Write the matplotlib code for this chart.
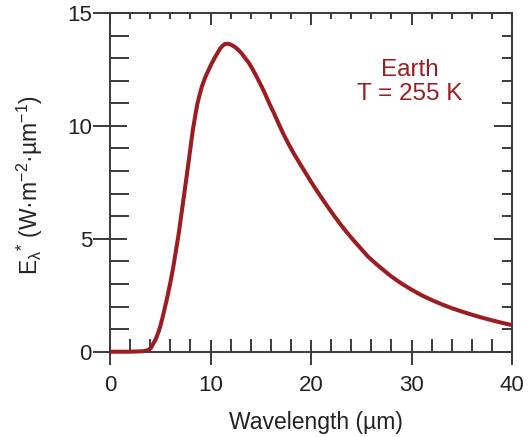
import matplotlib
matplotlib.use("Agg")
import matplotlib.pyplot as plt
from matplotlib.ticker import MultipleLocator

plt.rcParams['font.family'] = ['Liberation Sans', 'DejaVu Sans']
plt.rcParams['mathtext.fontset'] = 'custom'
plt.rcParams['mathtext.rm'] = 'Liberation Sans'
plt.rcParams['mathtext.it'] = 'Liberation Sans:italic'
plt.rcParams['mathtext.sf'] = 'Liberation Sans'

# Data
wavelength = [0, 2, 3.3, 3.8, 4.1, 4.32, 4.55, 4.8, 5.0, 5.25, 5.64, 6.0, 6.3, 6.84,
              7.3, 7.8, 8.24, 8.5, 8.7, 9.13, 9.45, 9.79, 10.1, 10.46, 10.95,
              11.2, 11.45, 11.7, 11.9, 12.2, 12.5, 12.8, 13.12, 13.45, 13.8,
              14.2, 14.6, 15.0, 15.3, 15.9, 16.3, 16.8, 17.3, 17.8, 18.3, 18.8,
              19.35, 19.9, 20.4, 21.0, 21.6, 22.2, 22.8, 23.5, 24.2, 25.0, 25.7,
              26.5, 27.2, 28.0, 29.0, 30.0, 31.0, 32.0, 33.0, 34.0, 35.0, 36.0,
              37.0, 38.0, 39.0, 40.0]
emission = [0, 0, 0.02, 0.07, 0.18, 0.37, 0.55, 0.85, 1.12, 1.55, 2.29, 3.05, 3.76, 5.24,
            6.71, 8.34, 9.81, 10.5, 10.99, 11.73, 12.12, 12.46, 12.75, 13.05, 13.42,
            13.55, 13.63, 13.64, 13.62, 13.56, 13.47, 13.35, 13.2, 13.0, 12.8,
            12.5, 12.17, 11.82, 11.55, 10.95, 10.58, 10.08, 9.6, 9.17, 8.77, 8.4,
            8.0, 7.6, 7.25, 6.85, 6.46, 6.08, 5.72, 5.32, 4.95, 4.55, 4.2,
            3.88, 3.62, 3.33, 3.02, 2.75, 2.5, 2.29, 2.1, 1.93, 1.78, 1.64,
            1.51, 1.39, 1.28, 1.18]
x_ticks = [0, 10, 20, 30, 40]
y_ticks = [0, 5, 10, 15]
annotation = "Earth\nT = 255 K"

W, H = 530, 437
fig = plt.figure(figsize=(W / 100, H / 100), dpi=100)
ax = fig.add_axes([110 / W, 1 - 351.7 / H, (512 - 110) / W, (351.7 - 13) / H])

red = '#9c1c22'
gray = '#3a3a3a'
ax.plot(wavelength, emission, color=red, lw=2.9, solid_capstyle='butt',
        solid_joinstyle='round', clip_on=False, zorder=3)

ax.set_xlim(0, 40)
ax.set_ylim(0, 15)
ax.set_xticks(x_ticks)
ax.set_yticks(y_ticks)
ax.xaxis.set_minor_locator(MultipleLocator(2))
ax.yaxis.set_minor_locator(MultipleLocator(1))

for s in ax.spines.values():
    s.set_color(gray)
    s.set_linewidth(1.4)

ax.tick_params(axis='x', which='major', direction='inout', length=18, width=1.4,
               color=gray, labelsize=16, pad=7.5, labelcolor='#222222')
ax.tick_params(axis='x', which='minor', direction='in', length=9.4, width=1.4, color=gray)
ax.tick_params(axis='y', which='major', direction='inout', length=24, width=1.4,
               color=gray, labelsize=16, pad=1, labelcolor='#222222')
ax.tick_params(axis='y', which='minor', direction='in', length=13.7, width=1.4, color=gray)

top = ax.secondary_xaxis('top')
top.set_xticks(x_ticks)
top.xaxis.set_minor_locator(MultipleLocator(2))
top.tick_params(which='major', direction='in', length=8.6, width=1.4, color=gray, labeltop=False)
top.tick_params(which='minor', direction='in', length=4.3, width=1.4, color=gray)
top.spines['top'].set_visible(False)

right = ax.secondary_yaxis('right')
right.set_yticks(y_ticks)
right.yaxis.set_minor_locator(MultipleLocator(1))
right.tick_params(which='major', direction='in', length=13, width=1.4, color=gray, labelright=False)
right.tick_params(which='minor', direction='in', length=7.2, width=1.4, color=gray)
right.spines['right'].set_visible(False)

fig.text(316 / W, 1 - 422 / H, 'Wavelength (µm)', ha='center', va='center',
         fontsize=16.5, color='#222222')
fig.text(29.5 / W, 1 - 185 / H,
         r'E$_{\mathrm{\lambda}}$$^{*}$ (W·m$^{-2}$·µm$^{-1}$)', rotation=90,
         ha='center', va='center', fontsize=16.5, color='#222222')

ax.text(29.8, 11.95, annotation, ha='center', va='center', fontsize=17.5,
        color=red, linespacing=1.16)

fig.savefig('out.png', dpi=100)
